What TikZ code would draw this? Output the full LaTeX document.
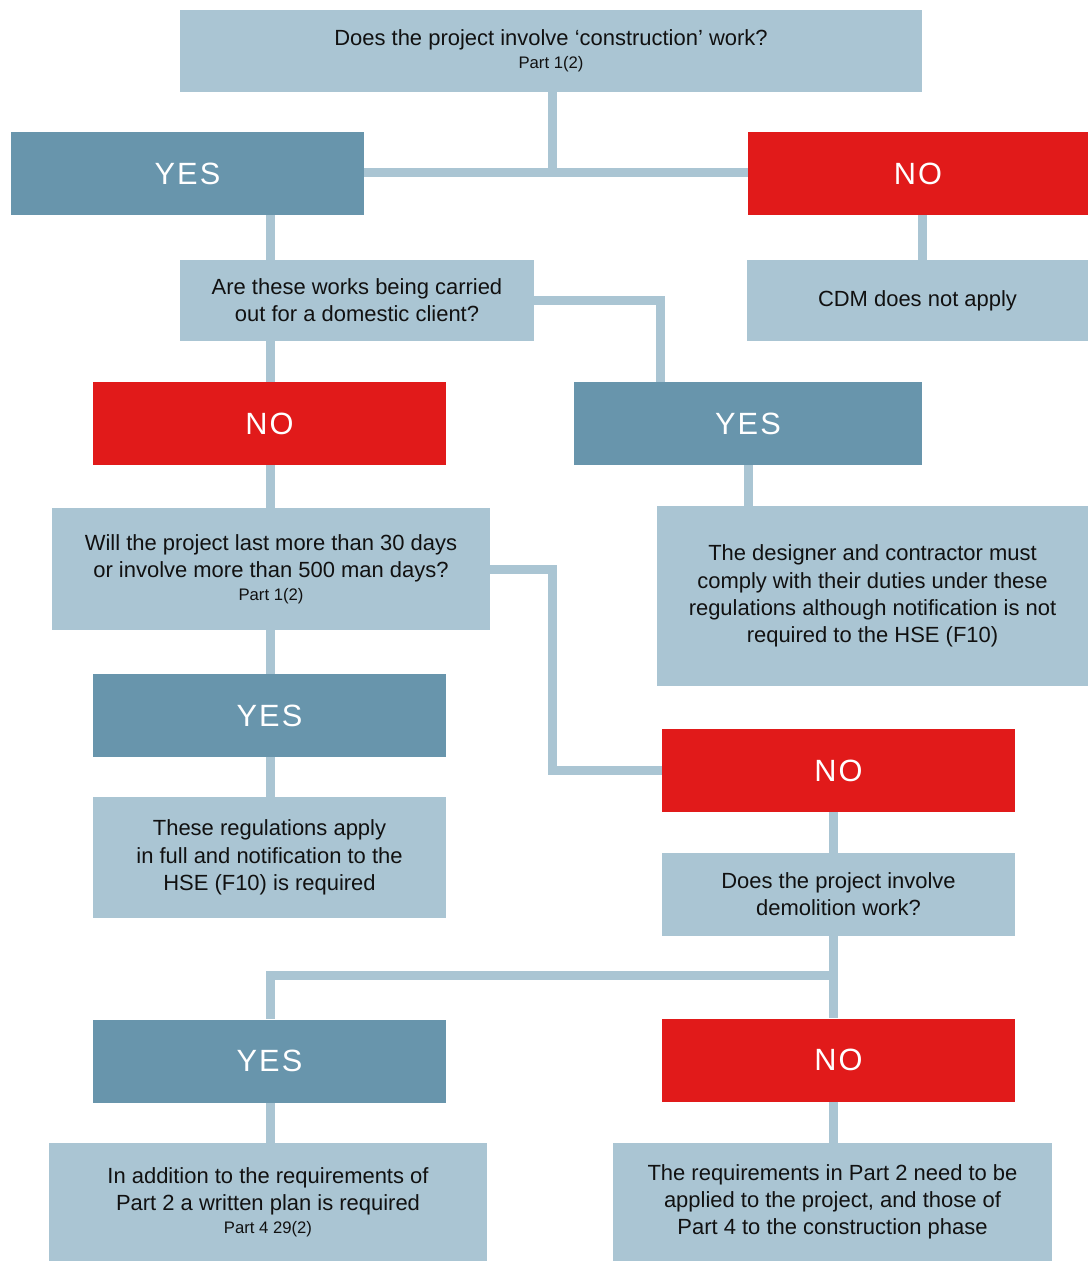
\documentclass[tikz,border=0pt]{standalone}
\usepackage{fontspec}
\setmainfont{Liberation Sans}
\newfontfamily\signfont[LetterSpace=7]{Liberation Sans}
\usetikzlibrary{positioning, calc}
\definecolor{boxblue}{HTML}{AAC5D3}
\definecolor{yesblue}{HTML}{6895AC}
\definecolor{nored}{HTML}{E11A1A}
\definecolor{textdark}{HTML}{111111}
\newlength{\pxu}
\setlength{\pxu}{0.02cm}
\newcommand{\partref}[1]{{\fontsize{9.5}{11}\selectfont #1}}
\tikzset{
	infonode/.style={
			rectangle,
			fill=boxblue,
			draw=none,
			text=textdark,
			align=center,
			inner sep=0pt,
			font=\fontsize{12.5}{15.5}\selectfont
		},
	yesnode/.style={
			infonode,
			fill=yesblue,
			text=white,
			minimum width=353*\pxu,
			minimum height=83*\pxu,
			font=\signfont\fontsize{17.5}{20}\selectfont
		},
	nonode/.style={
			yesnode,
			fill=nored
		},
	linkline/.style={
			draw=boxblue,
			line width=9*\pxu,
			line join=miter
		}
}

\begin{document}
\begin{tikzpicture}[x=0.02cm, y=-0.02cm]
\useasboundingbox (0,0) rectangle (1088,1261);

% questions and outcomes
\node[infonode, minimum width=742*\pxu, minimum height=82*\pxu] (q1) at (551,51)
  {Does the project involve ‘construction’ work?\\[-2.5pt] \partref{Part 1(2)}};
\node[yesnode] (yes1) at (187.5,173.5) {YES};
\node[nonode, minimum width=340*\pxu] (no1) at (918,173.5) {NO};
\node[infonode, minimum width=341*\pxu, minimum height=81*\pxu] (cdm) at (917.5,300.5)
  {CDM does not apply};
\node[infonode, minimum width=354*\pxu, minimum height=81*\pxu] (q2) at (357,300.5)
  {Are these works being carried\\ out for a domestic client?};
\node[nonode] (no2) at (269.5,423.5) {NO};
\node[yesnode, minimum width=348*\pxu] (yes2) at (748,423.5) {YES};
\node[infonode, minimum width=438*\pxu, minimum height=122*\pxu] (q3) at (271,569)
  {Will the project last more than 30 days\\ or involve more than 500 man days?\\[-2.5pt] \partref{Part 1(2)}};
\node[infonode, minimum width=431*\pxu, minimum height=180*\pxu] (designer) at (872.5,596)
  {The designer and contractor must\\ comply with their duties under these\\ regulations although notification is not\\ required to the HSE (F10)};
\node[yesnode] (yes3) at (269.5,715.5) {YES};
\node[nonode] (no3) at (838.5,770.5) {NO};
\node[infonode, minimum width=353*\pxu, minimum height=121*\pxu] (full) at (269.5,857.5)
  {These regulations apply\\ in full and notification to the\\ HSE (F10) is required};
\node[infonode, minimum width=353*\pxu, minimum height=83*\pxu] (q4) at (838.5,894.5)
  {Does the project involve\\ demolition work?};
\node[yesnode] (yes4) at (269.5,1061) {YES};
\node[nonode] (no4) at (838.5,1060) {NO};
\node[infonode, minimum width=438*\pxu, minimum height=118*\pxu] (plan) at (268,1202)
  {In addition to the requirements of\\ Part 2 a written plan is required\\[-2.5pt] \partref{Part 4 29(2)}};
\node[infonode, minimum width=439*\pxu, minimum height=118*\pxu] (phase) at (832.5,1202)
  {The requirements in Part 2 need to be\\ applied to the project, and those of\\ Part 4 to the construction phase};

% columns and junctions
\coordinate (col1) at (270,0);
\coordinate (col2) at (660,0);
\coordinate (col3) at (922,0);
\coordinate (col4) at (552,0);
\coordinate (col5) at (833,0);
\coordinate (j1) at (552,172.5);
\coordinate (j4) at (833,975);

% connectors
\draw[linkline] (q1.south -| j1) -- (j1);
\draw[linkline] (yes1.east |- j1) -- (no1.west |- j1);
\draw[linkline] (no1.south -| col3) -- (cdm.north -| col3);
\draw[linkline] (yes1.south -| col1) -- (q2.north -| col1);
\draw[linkline] (q2.south -| col1) -- (no2.north -| col1);
\draw[linkline] (q2.east) -| (yes2.north -| col2);
\draw[linkline] (yes2.south) -- (designer.north -| yes2.south);
\draw[linkline] (no2.south -| col1) -- (q3.north -| col1);
\draw[linkline] (q3.south -| col1) -- (yes3.north -| col1);
\draw[linkline] (q3.east) -| (col4 |- no3.west) -- (no3.west);
\draw[linkline] (yes3.south -| col1) -- (full.north -| col1);
\draw[linkline] (no3.south -| col5) -- (q4.north -| col5);
\draw[linkline] (q4.south -| col5) -- (no4.north -| col5);
\draw[linkline] (j4) -| (yes4.north -| col1);
\draw[linkline] (yes4.south -| col1) -- (plan.north -| col1);
\draw[linkline] (no4.south -| col5) -- (phase.north -| col5);
\end{tikzpicture}
\end{document}
